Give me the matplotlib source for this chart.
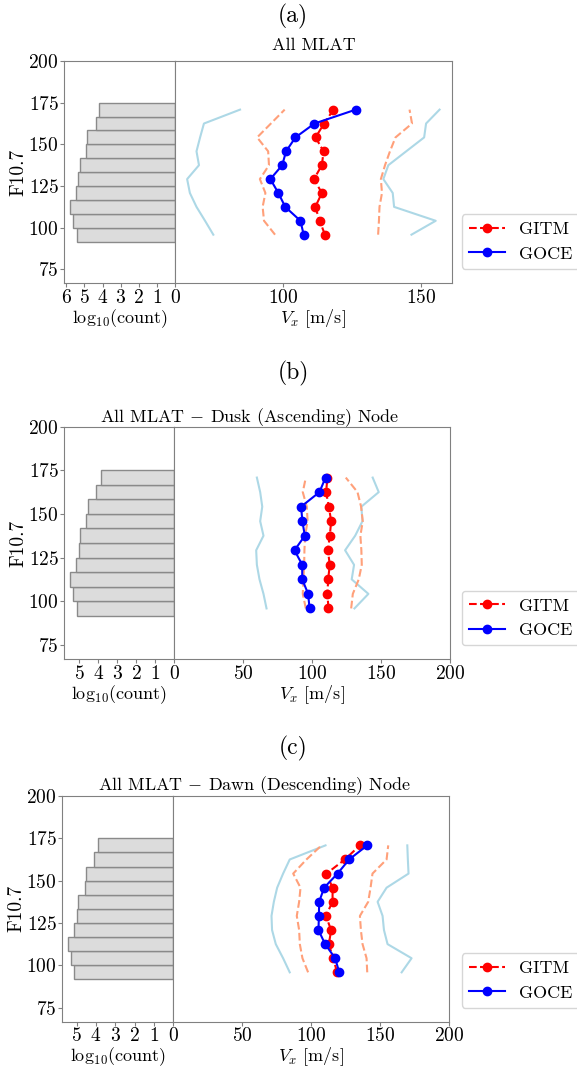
import matplotlib
matplotlib.use("Agg")
import matplotlib.pyplot as plt
import numpy as np

plt.rcParams["font.family"] = ["cmr10", "DejaVu Serif"]
plt.rcParams["mathtext.fontset"] = "cm"
plt.rcParams["axes.formatter.use_mathtext"] = True
plt.rcParams["axes.edgecolor"] = "gray"
plt.rcParams["axes.unicode_minus"] = False

# F10.7 bin edges shared by all three panels
f107_edges = [91.67, 100.0, 108.33, 116.67, 125.0, 133.33, 141.67, 150.0, 158.33, 166.67, 175.0]

# (a) All MLAT
a_logcount = [5.43, 5.65, 5.82, 5.49, 5.34, 5.27, 4.92, 4.84, 4.37, 4.20]
a_gitm = [115.1, 113.2, 111.6, 114.0, 111.1, 114.0, 114.6, 111.7, 114.8, 118.2]
a_goce = [107.4, 106.2, 100.7, 98.2, 95.3, 99.6, 101.0, 104.4, 111.3, 126.3]
a_gitm_lo = [97.0, 93.0, 92.5, 93.5, 91.5, 94.8, 94.5, 90.5, 95.5, 100.5]
a_gitm_hi = [134.4, 134.7, 134.9, 135.8, 135.4, 136.9, 138.7, 140.7, 146.7, 145.8]
a_goce_lo = [74.6, 71.6, 68.5, 66.1, 65.1, 69.4, 68.5, 69.8, 71.2, 84.3]
a_goce_hi = [146.5, 155.3, 140.2, 139.7, 136.3, 138.1, 144.6, 151.1, 151.8, 156.7]

# (b) Dusk (ascending) node
b_logcount = [5.14, 5.35, 5.51, 5.19, 5.03, 4.98, 4.62, 4.56, 4.11, 3.88]
b_gitm = [111.8, 111.1, 111.6, 112.8, 111.4, 112.8, 113.8, 112.1, 110.1, 111.1]
b_goce = [98.1, 97.1, 92.8, 92.8, 87.2, 94.7, 92.9, 92.0, 105.3, 109.7]
b_gitm_lo = [95.4, 93.2, 93.7, 94.2, 94.4, 94.9, 96.7, 96.1, 93.2, 95.4]
b_gitm_hi = [128.3, 129.5, 133.8, 136.0, 135.7, 135.0, 136.7, 135.5, 132.9, 124.4]
b_goce_lo = [66.9, 64.7, 61.8, 59.9, 59.4, 64.7, 62.3, 63.8, 62.3, 59.9]
b_goce_hi = [130.7, 140.8, 128.7, 130.4, 123.9, 131.2, 136.5, 135.7, 148.3, 143.9]

# (c) Dawn (descending) node
c_logcount = [5.14, 5.31, 5.48, 5.14, 5.00, 4.95, 4.60, 4.51, 4.10, 3.89]
c_gitm = [118.8, 115.9, 112.8, 114.5, 110.6, 115.5, 115.5, 111.1, 124.4, 135.3]
c_goce = [120.3, 117.4, 110.1, 105.3, 105.6, 105.8, 109.4, 119.1, 127.5, 140.6]
c_gitm_lo = [97.8, 93.7, 91.8, 91.3, 89.6, 91.3, 92.3, 87.0, 96.6, 107.5]
c_gitm_hi = [140.6, 140.1, 137.2, 136.0, 135.3, 141.3, 143.0, 144.4, 154.6, 155.8]
c_goce_lo = [84.5, 79.7, 74.4, 71.7, 71.3, 73.0, 75.4, 79.7, 84.5, 110.4]
c_goce_hi = [165.5, 172.7, 155.3, 152.7, 151.7, 148.1, 154.6, 170.5, 170.0, 169.6]

titles = ["All MLAT",
          r"All MLAT $-$ Dusk (Ascending) Node",
          r"All MLAT $-$ Dawn (Descending) Node"]
panel_tags = ["(a)", "(b)", "(c)"]

W, H = 577, 1066
fig = plt.figure(figsize=(W / 100, H / 100), dpi=100)

FS = 13
TICK_FS = 14


def px_axes(x0, x1, ytop, ybot):
    return fig.add_axes([x0 / W, 1 - ybot / H, (x1 - x0) / W, (ybot - ytop) / H])


# pixel layout: hist left, split, main right, top, bottom, tag y, legend top,
# title centre x, title baseline y, velocity range
layout = [
    (64.3, 175.0, 451.7, 61.0, 283.3, 16.0, 214.0, 313.5, 50.0, (60.7, 161.1)),
    (64.3, 174.3, 450.0, 426.7, 659.3, 373.0, 590.7, 250.0, 422.0, (0, 200)),
    (62.3, 173.0, 449.3, 796.0, 1021.7, 748.0, 953.0, 255.0, 790.0, (0, 200)),
]

panels = [
    (a_logcount, a_gitm, a_goce, a_gitm_lo, a_gitm_hi, a_goce_lo, a_goce_hi),
    (b_logcount, b_gitm, b_goce, b_gitm_lo, b_gitm_hi, b_goce_lo, b_goce_hi),
    (c_logcount, c_gitm, c_goce, c_gitm_lo, c_gitm_hi, c_goce_lo, c_goce_hi),
]

edges = np.array(f107_edges)
centers = 0.5 * (edges[:-1] + edges[1:])
widths = np.diff(edges)

for i, (lay, data) in enumerate(zip(layout, panels)):
    xl, xm, xr, yt, yb, tag_y, leg_top, tx, ty, vlim = lay
    logc, gitm, goce, glo, ghi, olo, ohi = data

    axh = px_axes(xl, xm, yt, yb)
    axm = px_axes(xm, xr, yt, yb)

    # histogram of sample counts
    axh.barh(centers, logc, height=widths, color="#dcdcdc",
             edgecolor="#8a8a8a", linewidth=1.0)
    xmax = max(logc) * 1.05
    axh.set_xlim(xmax, 0)
    axh.set_xticks(np.arange(0, int(np.floor(xmax)) + 1))
    axh.set_ylim(edges[0] - 25, 200)
    axh.set_yticks([75, 100, 125, 150, 175, 200])
    axh.set_ylabel("F10.7", fontsize=FS + 1, labelpad=1)
    axh.set_xlabel(r"$\mathrm{log}_{10}$(count)", fontsize=FS, labelpad=0)
    axh.tick_params(labelsize=TICK_FS, length=3, pad=1, color="gray")

    # velocity profiles
    axm.plot(olo, centers, color="lightblue", lw=1.5)
    axm.plot(ohi, centers, color="lightblue", lw=1.5)
    axm.plot(glo, centers, color="lightsalmon", lw=1.5, ls="--")
    axm.plot(ghi, centers, color="lightsalmon", lw=1.5, ls="--")
    axm.plot(gitm, centers, color="red", ls="--", marker="o", ms=6, lw=1.5,
             label="GITM")
    axm.plot(goce, centers, color="blue", ls="-", marker="o", ms=6, lw=1.5,
             label="GOCE")
    axm.set_ylim(edges[0] - 25, 200)
    axm.set_xticks(np.arange(50, 201, 50))
    axm.set_xlim(*vlim)
    axm.set_yticks([])
    axm.set_xlabel(r"$V_x$ [m/s]", fontsize=FS, labelpad=0)
    axm.tick_params(labelsize=TICK_FS, length=3, pad=1, color="gray")

    fig.text(tx / W, 1 - ty / H, titles[i], fontsize=FS,
             ha="center", va="baseline")
    fig.text(293 / W, 1 - tag_y / H, panel_tags[i], fontsize=17,
             ha="center", va="center")

    fig.legend(*axm.get_legend_handles_labels(), loc="upper left",
               bbox_to_anchor=(461.5 / W, 1 - leg_top / H),
               bbox_transform=fig.transFigure, fontsize=FS,
               borderaxespad=0, frameon=True)

fig.savefig("out.png", dpi=100)
